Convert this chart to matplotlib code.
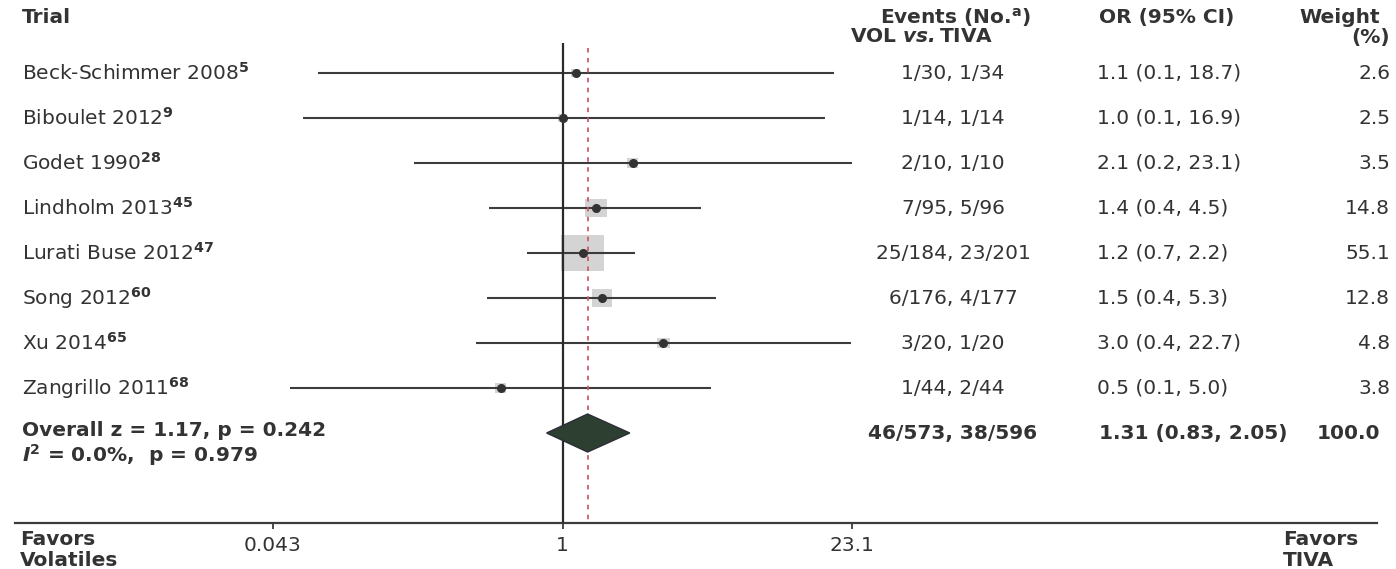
import numpy as np
import matplotlib
matplotlib.use('Agg')
import matplotlib.pyplot as plt
from matplotlib.patches import Rectangle, Polygon
from matplotlib.transforms import blended_transform_factory

# data
trials = ['Beck-Schimmer 2008', 'Biboulet 2012', 'Godet 1990', 'Lindholm 2013',
          'Lurati Buse 2012', 'Song 2012', 'Xu 2014', 'Zangrillo 2011']
refs = ['5', '9', '28', '45', '47', '60', '65', '68']
events = ['1/30, 1/34', '1/14, 1/14', '2/10, 1/10', '7/95, 5/96',
          '25/184, 23/201', '6/176, 4/177', '3/20, 1/20', '1/44, 2/44']
or_labels = ['1.1 (0.1, 18.7)', '1.0 (0.1, 16.9)', '2.1 (0.2, 23.1)', '1.4 (0.4, 4.5)',
             '1.2 (0.7, 2.2)', '1.5 (0.4, 5.3)', '3.0 (0.4, 22.7)', '0.5 (0.1, 5.0)']
weights = [2.6, 2.5, 3.5, 14.8, 55.1, 12.8, 4.8, 3.8]
or_vals = [1.15, 1.0, 2.14, 1.43, 1.24, 1.53, 2.98, 0.51]
ci_lo = [0.07, 0.06, 0.2, 0.45, 0.68, 0.44, 0.39, 0.052]
ci_hi = [18.9, 17.2, 23.1, 4.5, 2.2, 5.3, 22.7, 5.0]

overall_or, overall_lo, overall_hi = 1.31, 0.84, 2.07
overall_events = '46/573, 38/596'
overall_label = '1.31 (0.83, 2.05)'
overall_weight = '100.0'
ticks = [0.043, 1, 23.1]
tick_labels = ['0.043', '1', '23.1']

W, H = 1396, 569
X1 = 562.7      # pixel of OR = 1
PPL = 92.2      # pixels per ln unit
Y0, DY = 73, 45  # first row pixel, row spacing

fig = plt.figure(figsize=(W / 100, H / 100), dpi=100)
ax = fig.add_axes([0, 0, 1, 1])
ax.set_xscale('log')
ax.set_xlim(np.exp(-X1 / PPL), np.exp((W - X1) / PPL))
ax.set_ylim((H - Y0) / DY, -Y0 / DY)
ax.axis('off')

bt = blended_transform_factory(ax.transAxes, ax.transData)
def px(x):
    return x / W

txt = '#333333'
line = '#3c3c3c'
fs = 14.5
plt.rcParams['font.family'] = 'DejaVu Sans'

n = len(trials)
rows = np.arange(n)

# boxes, sized by weight
for i in rows:
    s = np.sqrt(weights[i] / 55.1)
    hw, hh = 21.5 * s / PPL, 18 * s / DY
    ax.add_patch(Rectangle((or_vals[i] * np.exp(-hw), i - hh),
                           or_vals[i] * (np.exp(hw) - np.exp(-hw)), 2 * hh,
                           facecolor='#d4d4d4', edgecolor='none', zorder=2))

ax.hlines(rows, ci_lo, ci_hi, color=line, lw=1.5, zorder=3)
ax.plot(or_vals, rows, 'o', color='#333333', ms=5.5, zorder=4)

# reference lines
ax.vlines(1, -0.67, 10, color='#2a2a2a', lw=1.6, zorder=3)
ax.vlines(overall_or, -0.55, 10, color='#d05a6a', lw=1.3,
          linestyles=(0, (2.5, 3)), zorder=3)

# overall diamond
dh = 19 / DY
ax.add_patch(Polygon([(overall_lo, n), (overall_or, n - dh), (overall_hi, n),
                      (overall_or, n + dh)], closed=True,
                     facecolor='#2c3f30', edgecolor='#2c2c3a', lw=1, zorder=5))

# bottom axis
ax.plot([px(15), px(1377)], [10, 10], color=line, lw=1.6, transform=bt)
ax.vlines(ticks, 10, 10.13, color=line, lw=1.3)
for t, lab in zip(ticks, tick_labels):
    ax.text(t, 10.5, lab, ha='center', va='center', fontsize=fs, color=txt)

bold = dict(fontsize=fs, color=txt, fontweight='bold', va='center', transform=bt)
norm = dict(fontsize=fs, color=txt, va='center', transform=bt)

# headers
ax.text(px(22), -1.24, 'Trial', ha='left', **bold)
ax.text(px(955), -1.24, r'Events (No.$^{\mathbf{a}}$)', ha='center', **bold)
ax.text(px(922), -0.8, r'VOL $\mathbfit{vs.}$TIVA', ha='center', **bold)
ax.text(px(1099), -1.24, 'OR (95% CI)', ha='left', **bold)
ax.text(px(1380), -1.24, 'Weight', ha='right', **bold)
ax.text(px(1390), -0.8, '(%)', ha='right', **bold)

# rows
for i in rows:
    ax.text(px(22), i, trials[i] + r'$^{\mathbf{' + refs[i] + '}}$', ha='left', **norm)
    ax.text(px(953), i, events[i], ha='center', **norm)
    ax.text(px(1097), i, or_labels[i], ha='left', **norm)
    ax.text(px(1390), i, f'{weights[i]:.1f}', ha='right', **norm)

# overall row
ax.text(px(22), n - 0.05, 'Overall z = 1.17, p = 0.242', ha='left', **bold)
ax.text(px(22), n + 0.5, r'$\mathbfit{I}^{\mathbf{2}}$ = 0.0%,  p = 0.979', ha='left', **bold)
ax.text(px(953), n, overall_events, ha='center', **bold)
ax.text(px(1099), n, overall_label, ha='left', **bold)
ax.text(px(1380), n, overall_weight, ha='right', **bold)

# favors labels
ax.text(px(20), 10.36, 'Favors', ha='left', **bold)
ax.text(px(20), 10.84, 'Volatiles', ha='left', **bold)
ax.text(px(1283), 10.36, 'Favors', ha='left', **bold)
ax.text(px(1283), 10.84, 'TIVA', ha='left', **bold)

fig.savefig('out.png', dpi=100, facecolor='white')
